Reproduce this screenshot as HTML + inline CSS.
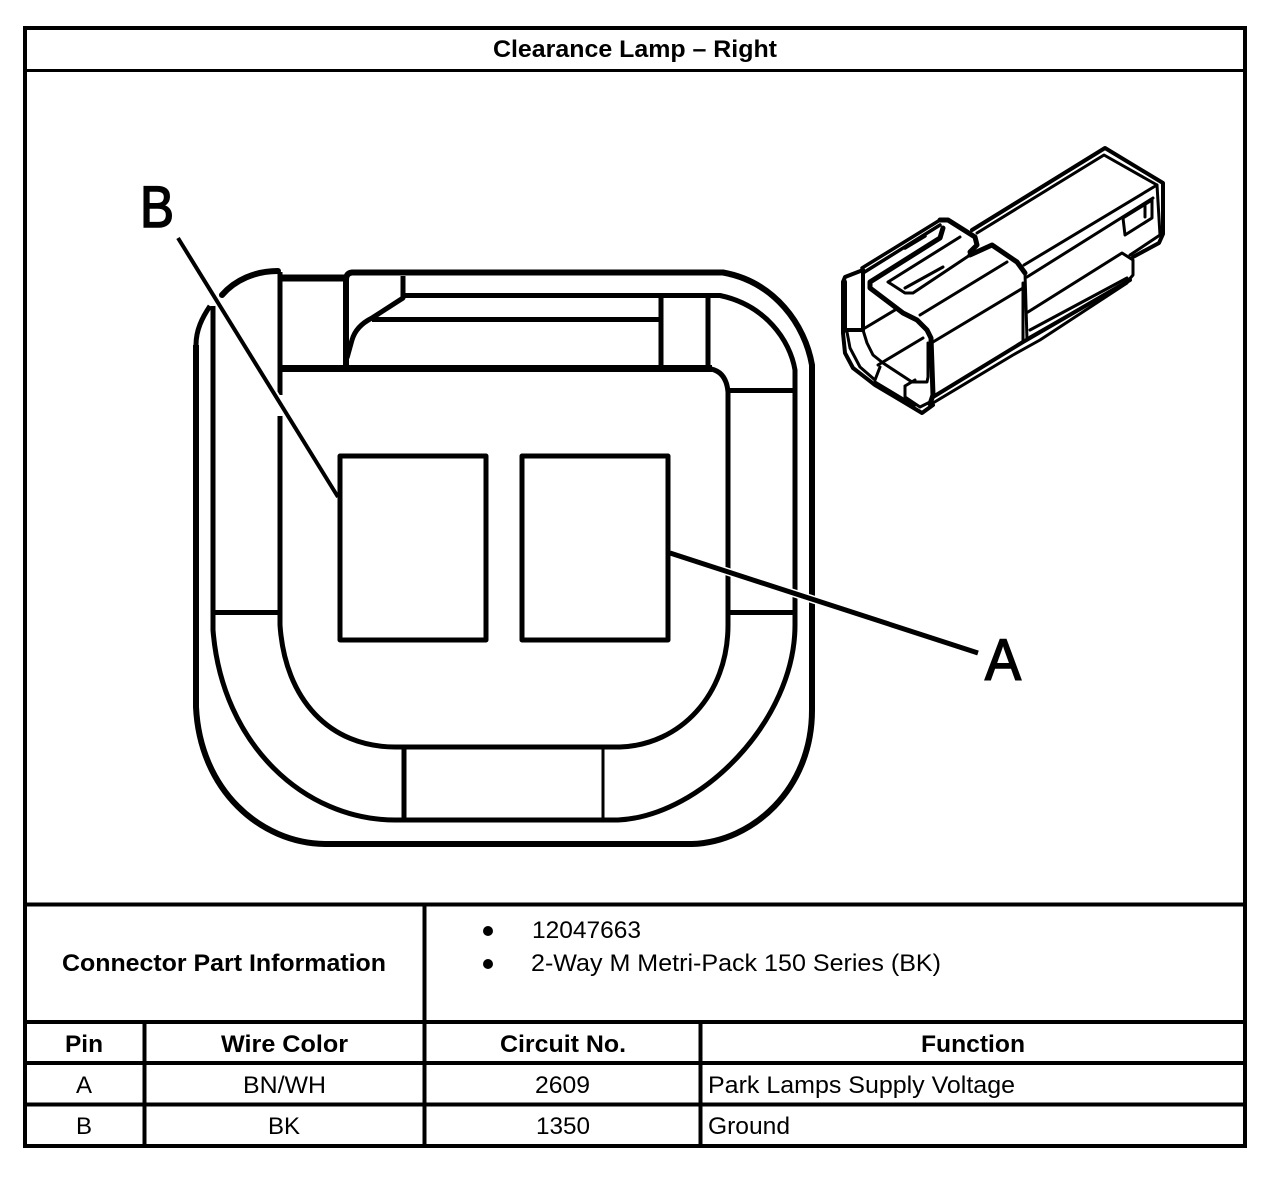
<!DOCTYPE html>
<html><head><meta charset="utf-8"><style>
html,body{margin:0;padding:0;background:#fff}
svg{display:block}
text{font-family:"Liberation Sans",sans-serif;fill:#000}
.b{font-weight:bold;font-size:24px}
.r{font-size:24px}
.m{text-anchor:middle}
</style></head><body>
<svg xmlns="http://www.w3.org/2000/svg" width="1280" height="1182" viewBox="0 0 1280 1182">
<rect width="1280" height="1182" fill="#fff"/>
<!-- table frame -->
<g stroke="#000" fill="none" shape-rendering="crispEdges">
<rect x="25" y="28" width="1220" height="1118" stroke-width="4"/>
<path d="M25 70.5H1245" stroke-width="3"/>
<path d="M25 904.5H1245M25 1022H1245M25 1063H1245M25 1104.5H1245" stroke-width="4"/>
<path d="M424.5 904V1146M144.5 1022V1146M700.5 1022V1146" stroke-width="4"/>
</g>
<text class="b" x="493" y="57" textLength="284" lengthAdjust="spacingAndGlyphs">Clearance Lamp – Right</text>
<text class="b" x="62" y="971" textLength="324" lengthAdjust="spacingAndGlyphs">Connector Part Information</text>
<circle cx="488" cy="931" r="5"/><circle cx="488" cy="964" r="5"/>
<text class="r" x="532" y="938" textLength="109" lengthAdjust="spacingAndGlyphs">12047663</text>
<text class="r" x="531" y="971" textLength="410" lengthAdjust="spacingAndGlyphs">2-Way M Metri-Pack 150 Series (BK)</text>
<text class="b" x="65" y="1052" textLength="38" lengthAdjust="spacingAndGlyphs">Pin</text>
<text class="b" x="221" y="1052" textLength="127" lengthAdjust="spacingAndGlyphs">Wire Color</text>
<text class="b" x="500" y="1052" textLength="126" lengthAdjust="spacingAndGlyphs">Circuit No.</text>
<text class="b" x="921" y="1052" textLength="104" lengthAdjust="spacingAndGlyphs">Function</text>
<text class="r m" x="84" y="1093">A</text>
<text class="r" x="243" y="1093" textLength="83" lengthAdjust="spacingAndGlyphs">BN/WH</text>
<text class="r" x="535" y="1093" textLength="55" lengthAdjust="spacingAndGlyphs">2609</text>
<text class="r" x="708" y="1093" textLength="307" lengthAdjust="spacingAndGlyphs">Park Lamps Supply Voltage</text>
<text class="r m" x="84" y="1134">B</text>
<text class="r" x="268" y="1134" textLength="32" lengthAdjust="spacingAndGlyphs">BK</text>
<text class="r" x="536" y="1134" textLength="54" lengthAdjust="spacingAndGlyphs">1350</text>
<text class="r" x="708" y="1134" textLength="82" lengthAdjust="spacingAndGlyphs">Ground</text>
<!-- connector face -->
<g stroke="#000" fill="none" stroke-linejoin="round">
<path d="M196 345V707C200 790 260 843 325 844H692C752 842 812 790 812 710V365C805 325 775 282 723 272.500H352Q346 273 346 280V368" stroke-width="6"/>
<path d="M222 295C235 280 255 271 278 271" stroke-width="6" stroke-linecap="round"/>
<path d="M196 345C196 330 202 318 210 306" stroke-width="5"/>
<path d="M213 306V630C222 745 305 820 395 820H618C702 816 795 720 795 625V370C790 340 765 305 720 295.500H403" stroke-width="5"/>
<path d="M280 272V395M280 416V625C285 700 330 747 395 747H620C680 745 728 695 728 625V392C727 380 722 370 708 368.500H282" stroke-width="5"/>
<path d="M281 368.500H712" stroke-width="7"/>
<path d="M280 278H346" stroke-width="7"/>
<path d="M403 276V298L372 318Q356 326 352 340L347 358M372 319.500H661M661 297V368M708 297V368" stroke-width="5"/>
<path d="M213 612.500H280M728 612.500H795M728 390.500H795M404 747V820" stroke-width="5"/>
<path d="M603 747V820" stroke-width="3"/>
<!-- leaders -->
<path d="M178 238L338 497M670 553L978 653" stroke="#fff" stroke-width="8"/>
<path d="M178 238L338 497" stroke-width="4"/>
<path d="M670 553L978 653" stroke-width="5"/>
<rect x="340" y="456" width="146" height="184" stroke-width="5"/>
<rect x="522" y="456" width="146" height="184" stroke-width="5"/>
</g>
<text x="140" y="227" font-size="58" stroke="#000" stroke-width="1.600" textLength="34" lengthAdjust="spacingAndGlyphs">B</text>
<text x="985" y="680" font-size="58" stroke="#000" stroke-width="1.600" textLength="36" lengthAdjust="spacingAndGlyphs">A</text>
<!-- connector isometric -->
<g stroke="#000" fill="none" stroke-width="3" stroke-linejoin="round" stroke-linecap="round">
<!-- end outline -->
<path d="M863 270L845 277L843 282V333L845 353L853 368L875 385L912 407L922 413L933 405" stroke-width="4"/>
<path d="M844 282V330" stroke-width="6"/>
<path d="M863 270V330" stroke-width="4"/>
<path d="M847 330H863" stroke-width="4"/>
<path d="M863 330L867 343L873 355L883 363L912 382H927L928 377V343"/>
<path d="M847 332L850 348L860 367L875 380L880 367M875 382L905 400L915 405M878 365L923 338M865 328L895 310"/>
<path d="M905 386L915 380M905 386V397L920 407L930 402"/>
<!-- latch -->
<path d="M862 268L940 220M863 273L940 225M905 248L925 236" stroke-width="3.500"/>
<path d="M940 220H948L975 237L977 245L970 252" stroke-width="5"/>
<path d="M943 228L940 238L870 282V288L903 313L917 320L927 330L931 338L933 395L930 404" stroke-width="5"/>
<path d="M888 282L960 237M888 282L905 293H913L970 255M905 288L943 267"/>
<path d="M970 255L992 245L1017 262L1025 273" stroke-width="5"/>
<path d="M1025 273L1027 340M1023 283V342" stroke-width="3"/>
<path d="M920 315L1007 262M933 342L1023 288"/>
<path d="M933 397L1023 342L1130 280" stroke-width="4"/>
<path d="M933 403L1013 355L1040 340L1127 283"/>
<!-- rear -->
<path d="M972 230L1105 148L1163 183V234L1159 243L1133 257" stroke-width="4"/>
<path d="M977 233L1104 155L1157 185L1160 235L1130 255"/>
<path d="M1024 265L1157 185M1027 277L1153 198"/>
<path d="M1123 218L1152 200V218L1125 235ZM1145 205V217"/>
<path d="M1028 312L1122 253L1133 260V275L1127 282L1030 337M1030 330L1127 278"/>
</g>
</svg>
</body></html>
